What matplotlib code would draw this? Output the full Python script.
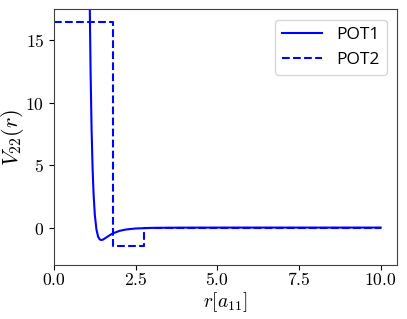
import matplotlib
matplotlib.use("Agg")
import matplotlib.pyplot as plt

plt.rcParams['mathtext.fontset'] = 'cm'

# POT1 values
r1 = [1.00, 1.06, 1.08, 1.10, 1.12, 1.15, 1.18, 1.21, 1.25, 1.30, 1.35, 1.40,
      1.45, 1.50, 1.60, 1.70, 1.80, 2.00, 2.20, 2.50, 3.00, 3.50, 4.00, 5.00,
      6.00, 8.00, 10.00]
v1 = [66.5, 29.2, 22.1, 16.66, 12.46, 7.91, 4.83, 2.75, 1.00, -0.17, -0.73, -0.95,
      -1.00, -0.964, -0.797, -0.618, -0.469, -0.267, -0.156, -0.074, -0.025, -0.010,
      -0.0045, -0.001, -0.0003, 0.0, 0.0]

# POT2 step potential
r2 = [0.0, 1.8, 1.8, 2.75, 2.75, 10.0]
v2 = [16.5, 16.5, -1.5, -1.5, 0.0, 0.0]

xticks = [0.0, 2.5, 5.0, 7.5, 10.0]
yticks = [0, 5, 10, 15]

fig = plt.figure(figsize=(4.07, 3.19), dpi=100)
ax = fig.add_axes([0.1327, 0.1693, 0.9754 - 0.1327, 0.9708 - 0.1693])

ax.plot(r1, v1, color='blue', linestyle='-', linewidth=1.5, label='POT1')
ax.plot(r2, v2, color='blue', linestyle='--', linewidth=1.5, label='POT2')

ax.set_xlim(0, 10.5)
ax.set_ylim(-3, 17.5)
ax.set_xticks(xticks)
ax.set_xticklabels([r'$%.1f$' % t for t in xticks], fontsize=12.7)
ax.set_yticks(yticks)
ax.set_yticklabels([r'$%d$' % t for t in yticks], fontsize=12.7)
ax.tick_params(axis='x', pad=0.8)
for s in ax.spines.values():
    s.set_color('0.25')

ax.set_xlabel(r'$r[a_{11}]$', fontsize=14)
ax.set_ylabel(r'$V_{22}(r)$', fontsize=16)
ax.xaxis.set_label_coords(0.5, -0.10)
ax.yaxis.set_label_coords(-0.082, 0.5)

ax.legend(loc='upper right', prop={'family': 'Open Sans', 'size': 12.5},
          handlelength=2.3, borderaxespad=0.6)

fig.savefig('out.png', dpi=100)
